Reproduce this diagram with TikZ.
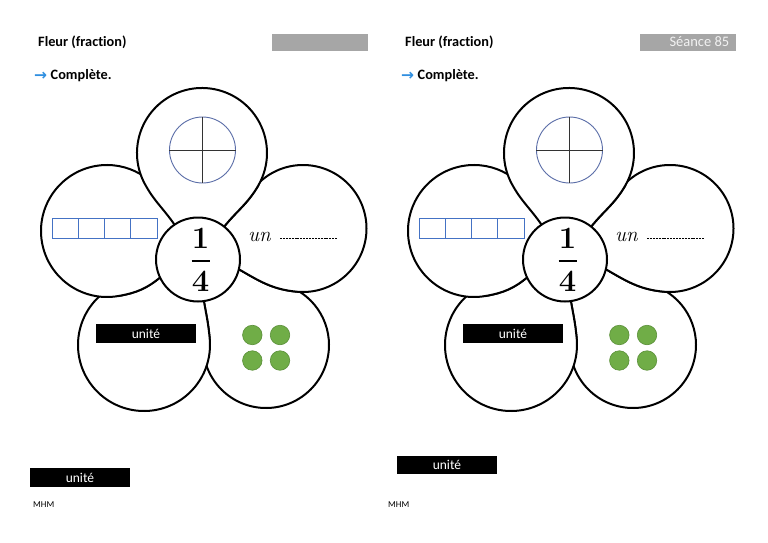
\documentclass[tikz,border=0pt]{standalone}
\usepackage{fontspec}
\newfontfamily\calibri{Carlito}[Ligatures=NoCommon]
\newfontfamily\dejavu{DejaVu Sans}
\usetikzlibrary{calc}
\definecolor{cellblue}{HTML}{4472C4}
\definecolor{ringblue}{HTML}{5B6EA8}
\definecolor{leaf}{HTML}{70AD47}
\definecolor{leafedge}{HTML}{5A8F38}
\definecolor{bandgray}{HTML}{A6A6A6}
\definecolor{arrowblue}{HTML}{2F8FE0}
\definecolor{bandtext}{HTML}{F2F2F2}
\tikzset{
 petal/.style={draw=black, fill=white, line width=2pt, line join=round},
 hub/.style={circle, draw=black, fill=white, line width=2pt, minimum size=84pt, inner sep=0pt},
 digit/.style={inner sep=0pt, font=\bfseries\fontsize{31}{31}\selectfont},
 unitbox/.style={fill=black, text=white, minimum width=100pt, minimum height=19pt, inner sep=0pt, font=\calibri\fontsize{13.5}{14}\selectfont},
 title/.style={anchor=base west, inner sep=0pt, font=\calibri\bfseries\fontsize{14.3}{16}\selectfont},
 band/.style={fill=bandgray, minimum width=96pt, minimum height=17pt, inner sep=0pt, anchor=north west},
 cell/.style={draw=cellblue, line width=0.9pt, minimum width=26.25pt, minimum height=20pt, inner sep=0pt},
 dot/.style={circle, fill=leaf, draw=leafedge, line width=0.6pt, minimum size=19.5pt, inner sep=0pt},
 ring/.style={circle, draw=ringblue, line width=0.9pt, minimum size=66pt, inner sep=0pt},
 cross/.style={draw=black!80, line width=0.8pt},
 footer/.style={anchor=west, inner sep=0pt, font=\calibri\fontsize{9}{10}\selectfont},
 arrowglyph/.style={anchor=base west, inner sep=0pt, text=arrowblue, font=\dejavu\bfseries\fontsize{15.5}{15}\selectfont},
}
\newcommand\flower[2]{%
 \coordinate (#2F) at (198+#1,-259.5);
 \coordinate (#2CT) at (202+#1,-153);
 \coordinate (#2CL) at (107+#1,-231);
 \coordinate (#2CR) at (303+#1,-228.5);
 \coordinate (#2CBL) at (144+#1,-345);
 \coordinate (#2CBR) at (266+#1,-345);
 \coordinate (#2Q1) at ($(#2F)+(124:41pt)$);
 \coordinate (#2QT) at ($(#2F)+(51.5:41pt)$);
 \coordinate (#2Q2) at ($(#2F)+(205:41pt)$);
 \coordinate (#2Q3) at ($(#2F)+(278:41pt)$);
 \coordinate (#2Q4) at ($(#2F)+(-13:41pt)$);
 \coordinate (#2P1) at ($(#2CT)+(208:65pt)$);
 \coordinate (#2PT) at ($(#2CT)+(-30:65pt)$);
 \coordinate (#2P2) at ($(#2CL)+(280:66pt)$);
 \coordinate (#2P3) at ($(#2CBL)+(5:66pt)$);
 \coordinate (#2P4) at ($(#2CR)+(-95:63.5pt)$);
 \coordinate (#2RS) at ($(#2CR)+(135:63.5pt)$);
 \coordinate (#2BLS) at ($(#2CBL)+(125:66pt)$);
 \coordinate (#2BRS) at ($(#2CBR)+(175:63pt)$);
 % bottom-right petal
 \draw[petal] (#2F) -- (#2Q3) to[out=280,in=95] (#2P3) -- (#2BRS) arc[start angle=175,end angle=435,radius=63pt] -- (#2P4) to[out=175,in=330] (#2Q4) -- cycle;
 % bottom-left petal
 \draw[petal] (#2F) -- (#2Q2) to[out=220,in=10] (#2P2) -- (#2BLS) arc[start angle=125,end angle=365,radius=66pt] to[out=95,in=280] (#2Q3) -- cycle;
 % right petal
 \draw[petal] (#2F) -- (#2QT) to[out=51.5,in=240] (#2PT) -- (#2RS) arc[start angle=135,end angle=-95,radius=63.5pt] to[out=175,in=330] (#2Q4) -- cycle;
 % left petal
 \draw[petal] (#2F) -- (#2Q2) to[out=220,in=10] (#2P2) arc[start angle=280,end angle=20,radius=66pt] -- cycle;
 % top petal
 \draw[petal] (#2F) -- (#2Q1) to[out=124,in=298] (#2P1) arc[start angle=208,end angle=-30,radius=65pt] to[out=240,in=51.5] (#2QT) -- cycle;
 % centre
 \node[hub] (#2hub) at (#2F) {};
 \node[digit] (#2num) at (200.5+#1,-238) {1};
 \node[digit] (#2den) at (200.5+#1,-281.5) {4};
 \coordinate (#2barL) at (191.5+#1,-261);
 \coordinate (#2barR) at (209.5+#1,-261);
 \draw[line width=1.8pt] (#2barL) -- (#2barR);
 % top petal: circle in quarters
 \node[ring] (#2ring) at (202.5+#1,-150) {};
 \draw[cross] (#2ring.west) -- (#2ring.east);
 \draw[cross] (#2ring.north) -- (#2ring.south);
 % left petal: bar of four cells
 \foreach \i in {0,...,3}{\node[cell] (#2cell\i) at (65.125+26.25*\i+#1,-228) {};}
 % right petal
 \node[anchor=base west, inner sep=0pt, font=\itshape\fontsize{21}{21}\selectfont] (#2un) at (248+#1,-241) {un};
 \coordinate (#2dotsL) at (280+#1,-238.5);
 \coordinate (#2dotsR) at (337+#1,-238.5);
 \draw[line width=1.6pt, dash pattern=on 2pt off 0.9pt] (#2dotsL) -- (#2dotsR);
 % bottom-left petal
 \node[unitbox] (#2unit) at (146+#1,-333.5) {unité};
 % bottom-right petal
 \node[dot] (#2d1) at (252.3+#1,-335) {};
 \node[dot] (#2d2) at (280+#1,-335) {};
 \node[dot] (#2d3) at (252.3+#1,-360.5) {};
 \node[dot] (#2d4) at (280+#1,-360.5) {};
}
\begin{document}
\begin{tikzpicture}[x=1pt,y=1pt]
\useasboundingbox (0,0) rectangle (768,-543);
\fill[white] (0,0) rectangle (768,-543);
\flower{0}{a}
\flower{367}{b}
% left page header
\node[title] (atitle) at (38,-47) {Fleur (fraction)};
\node[band] (aband) at (271.5,-33.5) {};
\node[arrowglyph] (aarrow) at (34,-80.5) {→};
\node[title] (atask) at (50.5,-80) {Complète.};
% right page header
\node[title] (btitle) at (405,-47) {Fleur (fraction)};
\node[band] (bband) at (640,-34) {};
\node[anchor=base east, inner sep=0pt, text=bandtext, font=\calibri\fontsize{14.5}{15}\selectfont] (bseance) at (729.5,-46.5) {Séance 85};
\node[arrowglyph] (barrow) at (401,-80.5) {→};
\node[title] (btask) at (417.5,-80) {Complète.};
% footers
\node[unitbox] (aunit) at (80,-477.5) {unité};
\node[unitbox, minimum height=18pt] (bunit) at (447,-465) {unité};
\node[footer] (amhm) at (33,-505) {MHM};
\node[footer] (bmhm) at (388,-505) {MHM};
\end{tikzpicture}
\end{document}
